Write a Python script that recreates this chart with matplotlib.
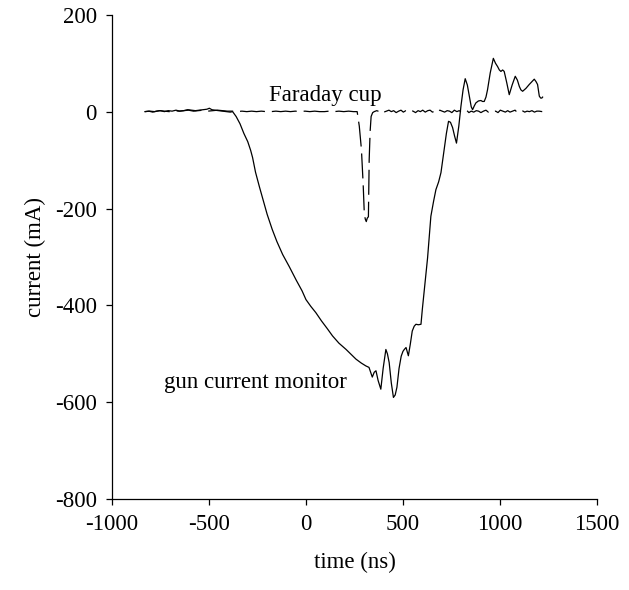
import matplotlib
matplotlib.use("Agg")
import matplotlib.pyplot as plt

# gun current monitor trace (ns, mA)
gun_t = [-830, -810, -790, -770, -750, -730, -710, -690, -670, -650, -630, -610,
         -590, -570, -550, -530, -510, -498, -485, -470, -450, -430, -410, -390,
         -378, -360, -340, -320, -300, -285, -275, -260, -240, -224, -200, -174,
         -150, -120, -86, -50, -20, 0, 25, 51, 80, 110, 137, 170, 207, 230, 258,
         285, 309, 325, 342, 352, 361, 372, 386, 398, 412, 420, 429, 440, 451,
         460, 469, 480, 491, 500, 507, 516, 528, 538, 548, 558, 567, 580, 593,
         600, 612, 627, 644, 658, 670, 684, 696, 705, 713, 724, 735, 745, 756,
         766, 776, 788, 799, 810, 821, 832, 842, 852, 859, 868, 876, 889, 902,
         910, 919, 928, 936, 950, 966, 977, 988, 997, 1005, 1014, 1022, 1035,
         1048, 1063, 1079, 1090, 1100, 1108, 1117, 1134, 1151, 1165, 1177, 1186,
         1194, 1203, 1210, 1216, 1220]
gun_i = [0, 1, -1, 1, 2, 0, 2, 1, 3, 1, 2, 4, 3, 2, 3, 4, 5, 7, 4, 3, 2, 1, 0, -1,
         0, -10, -25, -45, -62, -80, -95, -125, -155, -178, -212, -243,
         -268, -295, -320, -348, -370, -388, -402, -415, -432, -448, -463, -478,
         -491, -500, -511, -519, -525, -528, -548, -538, -535, -555, -573, -530,
         -491, -500, -518, -560, -590, -585, -569, -530, -505, -495, -491, -487,
         -504, -480, -453, -443, -439, -440, -439, -408, -360, -302, -216, -185,
         -161, -145, -126, -100, -78, -45, -20, -22, -33, -50, -65, -30, 11, 45,
         68, 55, 32, 10, 4, 12, 18, 22, 23, 21, 21, 30, 45, 80, 110, 100, 93, 86,
         83, 86, 83, 60, 35, 55, 73, 65, 52, 45, 42, 48, 56, 62, 67, 62, 56, 32,
         28, 28, 30]

# Faraday cup trace (ns, mA)
fc_t = [-830, -805, -780, -755, -730, -705, -680, -655, -630, -605, -580, -555,
        -530, -505, -480, -455, -430, -405, -380, -355, -330, -305, -280, -255,
        -230, -205, -180, -155, -130, -105, -80, -55, -30, -5, 20, 45, 70, 95,
        120, 145, 170, 195, 220, 245, 264, 275, 286, 295, 301, 306, 311, 316,
        322, 326, 331, 336, 344, 352, 365, 378, 390, 402, 415, 428, 440, 452,
        465, 478, 490, 502, 515, 528, 540, 552, 565, 578, 590, 602, 615, 628,
        640, 652, 665, 678, 690, 702, 715, 728, 740, 752, 765, 778, 790, 802,
        815, 828, 840, 852, 865, 878, 890, 902, 915, 928, 940, 952, 965, 978,
        990, 1002, 1015, 1028, 1040, 1052, 1065, 1078, 1090, 1102, 1115, 1128,
        1140, 1152, 1165, 1178, 1190, 1202, 1218]
fc_i = [0, 1, 0, 2, 1, 0, 2, 1, 2, 3, 1, 2, 3, 1, 2, 3, 2, 1, 1, 0, 1, 0, 1, 0,
        1, 0, 0, 1, 0, 1, 0, 1, 0, 1, 0, 1, 0, 0, 1, 0, 1, 0, 1, 0,
        0, -30, -78, -150, -212, -222, -227, -220, -217, -99, -40, -10, -2, 0,
        2, 0, 3, -1, 1, 3, 0, 2, -2, 1, 3, -1, 2, 0, 3, 1, -2, 2, 0, 3, -1,
        2, 3, -1, 1, -2, 3, 1, -1, 2, 1, -2, 3, 0, 2, -1, 1, 3, -2, 1, -1, 2,
        1, -2, 1, 3, -1, 2, 0, 1, -2, 3, 1, -1, 2, -1, 1, 3, -2, 1, 2, -1, 1,
        0, 2, -1, 1, 1, 0]

plt.rcParams['font.family'] = ['Liberation Serif', 'DejaVu Serif']
plt.rcParams['font.size'] = 16.5
plt.rcParams['axes.unicode_minus'] = False
plt.rcParams['lines.scale_dashes'] = False

fig = plt.figure(figsize=(6.29, 5.90), dpi=100)
ax = fig.add_axes([0.178, 0.154, 0.771, 0.821])

ax.plot(gun_t, gun_i, color='black', lw=0.9)
ax.plot(fc_t, fc_i, color='black', lw=0.9, linestyle=(0, (18, 5)))

ax.text(-190, 33, 'Faraday cup', ha='left', va='center')
ax.text(-730, -559, 'gun current monitor', ha='left', va='center')

ax.set_xlim(-1000, 1500)
ax.set_ylim(-800, 200)
ax.set_xticks([-1000, -500, 0, 500, 1000, 1500])
ax.set_yticks([-800, -600, -400, -200, 0, 200])
ax.spines['top'].set_visible(False)
ax.spines['right'].set_visible(False)
ax.spines['left'].set_linewidth(0.9)
ax.spines['bottom'].set_linewidth(0.9)
ax.tick_params(direction='out', length=4, width=0.9, pad=7)

ax.set_xlabel('time (ns)', labelpad=12)
ax.set_ylabel('current (mA)', labelpad=6)

fig.savefig('out.png', dpi=100)
